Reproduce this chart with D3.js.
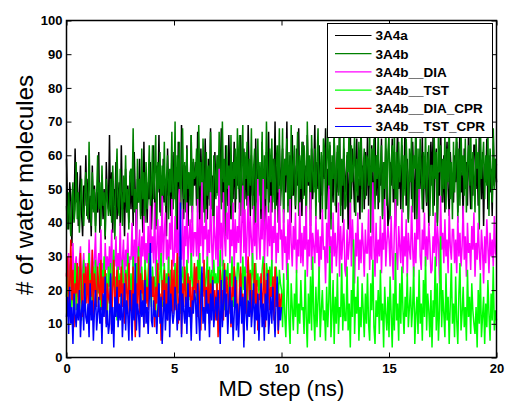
<!DOCTYPE html>
<html>
<head>
<meta charset="utf-8">
<script src="https://cdn.jsdelivr.net/npm/d3@7"></script>
<style>
  body { margin: 0; background: #fff; }
  svg { display: block; }
  text { font-family: "Liberation Sans", Arial, sans-serif; }
</style>
</head>
<body>
<div id="plot"></div>
<script>
// sampling interval of the traces (ns)
const dt = 0.05;

const seriesNames = ["3A4a", "3A4b", "3A4b__DIA", "3A4b__TST", "3A4b__DIA_CPR", "3A4b__TST_CPR"];
const seriesColors = ["#000000", "#008000", "#ff00ff", "#00ff00", "#ff0000", "#0000ff"];

const xTicks = [0, 5, 10, 15, 20];
const yTicks = [0, 10, 20, 30, 40, 50, 60, 70, 80, 90, 100];

// number of water molecules, one row per ns (20 samples each)
const a3A4a = [
  59,44,38,52,47,33,50,41,62,46,55,39,48,57,43,36,51,45,60,42,
  53,40,48,36,57,44,51,39,49,43,61,37,46,54,41,50,35,58,47,44,
  66,42,55,37,50,45,58,41,47,52,39,63,44,49,36,56,43,51,40,54,
  44,56,39,61,48,35,53,46,59,42,50,37,64,45,55,40,52,47,58,38,
  50,63,45,38,57,49,66,43,54,40,59,46,51,36,62,48,55,42,60,44,
  61,47,55,36,64,50,44,69,52,41,57,46,63,39,53,48,66,43,58,51,
  58,45,67,51,39,62,48,56,43,65,50,41,59,47,68,44,54,38,61,49,
  49,60,42,55,68,46,53,38,63,50,45,66,52,41,58,47,64,43,56,51,
  57,44,66,51,40,62,47,59,45,69,53,42,60,48,55,39,65,46,58,50,
  52,41,64,48,56,38,61,50,67,46,54,43,59,49,70,45,57,40,63,51,
  55,62,43,58,49,70,45,53,60,40,66,48,57,44,62,51,68,46,54,42,
  64,48,57,42,66,51,59,39,62,47,55,69,45,58,50,63,41,56,48,60,
  53,68,44,56,50,63,41,58,46,65,52,43,61,49,67,45,57,40,62,54,
  49,60,38,55,67,47,62,52,43,58,65,46,53,41,69,50,57,44,61,48,
  66,45,57,50,63,40,54,69,48,60,44,56,51,65,42,58,47,62,53,39,
  42,58,51,65,46,61,39,56,68,50,57,44,63,48,54,70,45,59,41,55,
  59,47,64,53,41,67,49,57,44,62,50,66,43,58,52,45,61,39,56,64,
  51,66,45,58,62,40,55,48,69,53,46,60,43,57,64,50,42,61,54,47,
  46,60,52,64,43,57,67,49,55,41,62,50,58,45,68,53,44,59,48,63,
  63,50,58,45,68,54,47,61,39,57,52,65,44,60,49,56,42,66,51,58,
  52
];

const a3A4b = [
  45,38,49,42,36,47,52,40,44,58,41,49,37,46,53,43,39,48,55,44,
  41,64,46,39,55,43,50,37,48,60,44,52,39,57,45,49,36,53,47,42,
  44,53,40,57,47,35,51,62,45,42,56,48,39,54,46,60,43,50,38,55,
  56,48,68,43,50,38,59,46,53,41,62,47,55,40,58,44,51,63,45,49,
  63,47,55,66,39,58,50,61,42,57,48,64,45,53,60,41,56,49,67,44,
  49,70,38,60,52,64,41,56,68,47,58,43,62,50,55,45,66,40,59,53,
  54,62,43,69,51,58,37,65,53,40,61,48,57,45,67,50,42,60,55,47,
  60,48,67,55,44,70,52,59,36,63,50,57,45,66,41,58,53,62,47,68,
  50,66,42,57,69,39,61,53,64,46,59,51,68,44,56,62,40,55,65,48,
  58,44,67,38,60,47,70,55,43,62,52,65,46,59,41,57,63,49,68,45,
  51,68,40,59,54,65,43,61,37,69,48,57,63,45,55,67,42,60,50,64,
  47,63,56,39,70,52,60,44,66,55,49,62,41,58,68,46,54,61,43,65,
  62,41,58,69,50,64,38,60,53,67,45,56,63,48,70,42,59,51,66,44,
  45,61,55,70,40,63,52,57,66,42,59,48,64,51,68,43,56,62,47,60,
  59,51,68,37,62,55,65,44,60,53,67,46,57,63,41,58,50,69,45,61,
  66,41,58,63,50,69,39,61,45,64,52,57,67,43,60,48,65,54,40,62,
  52,67,43,60,56,70,38,62,48,65,55,44,61,50,68,46,58,63,42,57,
  57,42,66,53,61,39,68,55,63,46,59,50,67,44,62,52,70,47,58,41,
  64,49,59,70,40,62,45,67,54,60,48,65,43,57,63,51,69,44,61,55,
  43,65,56,61,38,69,53,58,64,47,60,51,67,42,62,55,46,68,50,59,
  57
];

const a3A4bDIA = [
  25,20,31,23,28,19,34,22,27,30,24,18,29,33,21,26,31,23,28,20,
  21,35,26,18,32,24,29,37,22,27,31,25,38,23,28,20,34,26,30,24,
  33,25,38,21,30,27,36,24,31,26,40,23,29,35,22,32,27,37,25,30,
  29,40,23,35,27,44,25,32,38,22,36,30,42,26,34,28,39,24,45,31,
  36,28,46,24,33,41,26,39,30,48,27,37,43,29,35,25,40,32,47,28,
  27,42,31,38,25,50,34,29,44,23,39,33,46,28,36,41,26,45,30,37,
  37,30,47,26,41,33,52,28,39,35,44,27,38,31,49,34,25,42,36,29,
  45,24,56,32,40,27,49,36,30,43,35,51,28,38,33,46,26,41,31,39,
  34,46,28,39,51,31,44,25,37,48,30,42,35,27,45,33,40,29,53,36,
  29,41,35,53,27,38,45,30,42,33,48,26,39,34,44,28,37,31,50,35,
  38,26,44,31,36,23,41,29,47,34,27,39,32,43,25,35,30,46,28,37,
  27,39,32,45,24,35,30,49,26,37,33,28,42,31,38,23,36,29,44,32,
  33,22,40,28,51,31,36,25,43,30,37,27,34,46,24,39,29,35,41,26,
  24,38,29,34,46,27,41,32,22,37,30,43,26,35,28,40,33,24,38,31,
  31,44,26,36,29,52,33,24,40,28,35,30,42,25,37,32,47,27,34,39,
  35,27,42,30,23,38,47,31,26,39,33,28,44,25,36,30,41,24,37,32,
  29,45,33,24,37,28,41,35,50,30,26,38,32,43,27,36,29,40,34,25,
  26,36,31,43,27,39,34,22,48,32,37,28,41,30,35,25,44,33,29,38,
  38,28,35,25,42,30,37,27,33,45,29,36,24,40,31,34,26,39,32,43,
  24,34,29,40,31,26,38,32,22,36,28,41,33,25,37,30,35,27,42,31,
  30
];

const a3A4bTST = [
  18,26,12,22,30,15,24,19,28,14,21,27,16,25,11,23,29,17,24,20,
  23,31,17,25,13,27,20,29,16,24,19,28,14,26,22,30,18,25,12,27,
  21,28,15,26,32,18,24,11,27,20,25,16,29,22,14,26,19,31,23,17,
  25,17,30,22,14,28,19,33,23,16,27,21,12,29,24,18,26,31,20,15,
  27,20,24,12,29,22,18,26,31,15,23,28,17,25,20,30,13,26,22,19,
  22,28,16,25,19,30,13,24,27,20,26,15,29,21,24,17,31,23,18,27,
  26,17,29,23,31,15,25,21,28,18,24,30,14,27,20,26,16,29,22,25,
  19,27,22,32,16,24,29,14,26,23,28,18,25,21,30,15,27,24,19,28,
  28,21,25,17,30,20,27,23,12,29,22,26,18,31,24,16,28,21,25,19,
  24,18,26,30,22,16,28,25,19,27,21,29,15,24,20,27,23,17,26,22,
  20,9,25,13,6,18,28,11,4,22,15,8,19,12,26,7,16,10,23,14,
  15,7,26,12,3,19,10,24,8,30,13,5,21,9,17,27,6,14,20,11,
  14,5,21,9,17,33,6,13,23,4,18,10,25,7,15,12,28,8,19,11,
  11,27,8,16,3,20,12,35,7,18,13,24,5,15,9,22,14,6,19,10,
  25,10,5,22,14,29,9,4,17,12,20,7,26,11,16,3,21,13,8,18,
  6,24,13,3,19,8,31,11,16,5,22,10,27,14,7,18,12,25,9,15,
  21,9,15,27,4,13,18,7,26,10,16,5,23,12,30,8,19,14,6,20,
  3,17,12,30,8,22,5,14,36,9,20,13,6,25,11,18,4,16,28,10,
  16,6,24,11,4,19,28,8,13,21,9,15,5,26,12,18,7,22,14,10,
  7,15,3,20,10,25,6,12,18,4,16,9,23,13,5,19,11,27,8,14,
  11
];

const a3A4bDIACPR = [
  24,30,14,21,35,17,26,9,22,19,28,15,23,31,18,12,25,20,27,16,
  28,13,23,18,32,11,25,20,15,27,21,17,29,14,24,19,26,10,22,18,
  16,24,8,21,29,14,19,26,12,23,18,27,15,22,10,25,20,13,28,17,
  20,11,27,17,6,22,15,30,13,25,19,23,9,26,16,21,14,28,18,24,
  18,24,9,21,16,28,12,19,5,23,17,26,14,22,11,25,20,15,29,13,
  26,14,20,31,10,17,24,7,22,15,27,19,12,25,18,23,9,21,16,28,
  19,27,12,23,16,8,25,18,29,13,21,15,26,10,22,17,24,14,20,11,
  22,6,17,26,14,20,11,28,16,24,19,13,25,9,21,18,27,15,23,12,
  10,21,27,15,19,5,24,13,22,30,17,25,12,20,16,28,14,23,8,19,
  17,25,12,20,28,9,23,16,26,14,21,18,24,11,27,15,22,7,19,13,
  19
];

const a3A4bTSTCPR = [
  12,18,7,21,10,15,4,19,13,9,16,11,20,6,14,17,8,22,12,10,
  16,6,22,11,17,5,14,20,8,13,18,10,15,4,19,12,24,9,14,7,
  10,25,7,15,3,18,12,21,9,16,11,19,6,14,22,8,17,13,5,20,
  14,5,19,11,28,8,16,13,6,20,12,17,9,23,10,15,7,18,34,11,
  9,17,12,14,7,15,22,10,18,4,13,20,8,16,11,24,6,19,14,10,
  13,21,16,8,16,11,46,6,19,14,10,18,7,22,12,15,5,17,13,20,
  17,7,22,12,5,18,27,10,15,8,20,13,16,6,19,11,23,9,14,18,
  11,20,14,4,23,9,16,26,12,19,7,15,21,10,17,5,13,24,8,16,
  6,15,21,10,18,3,24,13,8,17,12,20,9,14,22,7,16,11,19,5,
  14,22,9,16,5,19,11,25,7,12,18,10,21,13,6,17,24,8,15,11,
  15
];

const seriesValues = [a3A4a, a3A4b, a3A4bDIA, a3A4bTST, a3A4bDIACPR, a3A4bTSTCPR];

// plot area
const W = 505, H = 401;
const margin = { top: 20.5, right: 8.5, bottom: 43.5, left: 66.5 };
const width = W - margin.left - margin.right;
const height = H - margin.top - margin.bottom;

const x = d3.scaleLinear().domain([0, 20]).range([0, width]);
const y = d3.scaleLinear().domain([0, 100]).range([height, 0]);

const svg = d3.select("#plot")
  .append("svg")
    .attr("width", W)
    .attr("height", H)
  .append("g")
    .attr("transform", `translate(${margin.left},${margin.top})`);

const line = d3.line()
  .x((d, i) => x(i * dt))
  .y(d => y(d));

svg.append("g")
  .selectAll("path")
  .data(seriesValues)
  .join("path")
    .attr("fill", "none")
    .attr("stroke", (d, i) => seriesColors[i])
    .attr("stroke-width", 1.5)
    .attr("d", line);

// axes, MATLAB style ticks pointing inward
const styleAxis = g => {
  g.select(".domain").remove();
  g.selectAll(".tick line").attr("stroke", "#000");
  g.selectAll("text")
    .attr("fill", "#000")
    .style("font-size", "13px")
    .style("font-weight", "bold");
};

svg.append("g")
  .attr("transform", `translate(0,${height})`)
  .call(d3.axisBottom(x).tickValues(xTicks).tickFormat(d3.format("d"))
    .tickSizeInner(-5).tickSizeOuter(0).tickPadding(6))
  .call(styleAxis);

svg.append("g")
  .call(d3.axisTop(x).tickValues(xTicks).tickFormat("")
    .tickSizeInner(-5).tickSizeOuter(0))
  .call(styleAxis);

svg.append("g")
  .call(d3.axisLeft(y).tickValues(yTicks).tickFormat(d3.format("d"))
    .tickSizeInner(-5).tickSizeOuter(0).tickPadding(4))
  .call(styleAxis);

svg.append("g")
  .attr("transform", `translate(${width},0)`)
  .call(d3.axisRight(y).tickValues(yTicks).tickFormat("")
    .tickSizeInner(-5).tickSizeOuter(0))
  .call(styleAxis);

svg.append("rect")
  .attr("width", width)
  .attr("height", height)
  .attr("fill", "none")
  .attr("stroke", "#000")
  .attr("stroke-width", 1.5);

// axis labels
svg.append("text")
  .attr("x", width / 2)
  .attr("y", height + 38.5)
  .attr("text-anchor", "middle")
  .style("font-size", "22px")
  .text("MD step (ns)");

svg.append("text")
  .attr("transform", `translate(-34,${height / 2 - 4}) rotate(-90)`)
  .attr("text-anchor", "middle")
  .style("font-size", "24px")
  .text("# of water molecules");

// legend
const legend = svg.append("g")
  .attr("transform", `translate(${327.5 - margin.left},${23.5 - margin.top})`);

legend.append("rect")
  .attr("width", 165)
  .attr("height", 114)
  .attr("fill", "#fff")
  .attr("stroke", "#000")
  .attr("stroke-width", 1);

const items = legend.selectAll("g.item")
  .data(seriesNames)
  .join("g")
    .attr("class", "item")
    .attr("transform", (d, i) => `translate(0,${12 + i * 18.2})`);

items.append("line")
  .attr("x1", 7.5).attr("x2", 44)
  .attr("stroke", (d, i) => seriesColors[i])
  .attr("stroke-width", 1.2);

items.append("text")
  .attr("x", 48)
  .attr("dy", "0.36em")
  .style("font-size", "13.5px")
  .style("font-weight", "bold")
  .text(d => d);
</script>
</body>
</html>
